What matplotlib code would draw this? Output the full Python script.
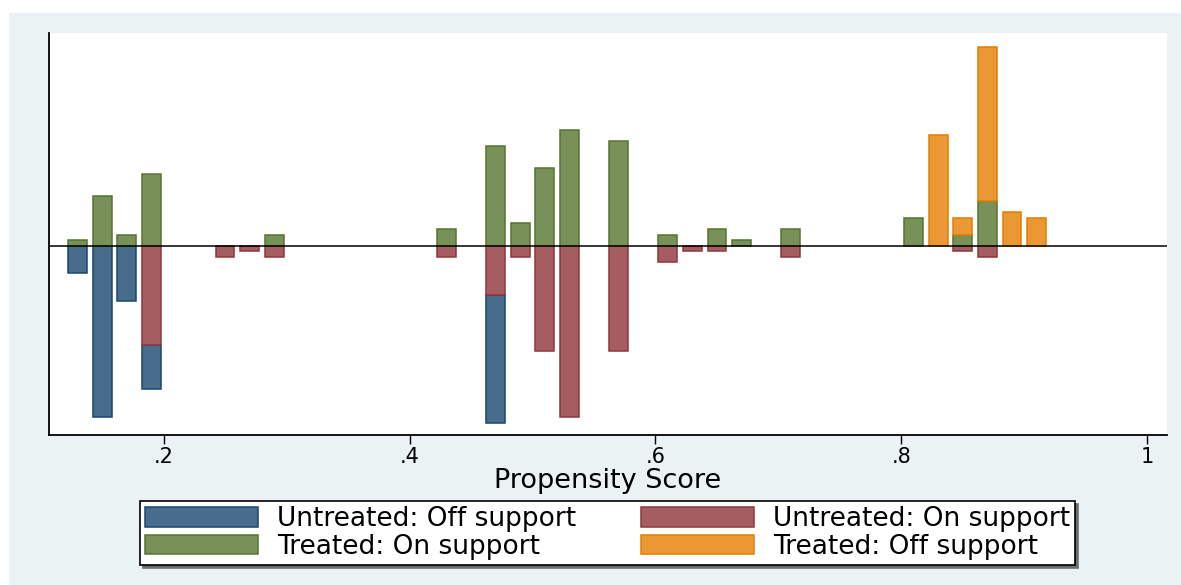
import matplotlib.pyplot as plt
import numpy as np
from matplotlib.patches import Rectangle

# bin midpoints of the propensity score histogram
bins = [0.13, 0.15, 0.17, 0.19, 0.25, 0.27, 0.29, 0.43, 0.47, 0.49, 0.51, 0.53,
        0.57, 0.61, 0.63, 0.65, 0.67, 0.71, 0.81, 0.83, 0.85, 0.87, 0.89, 0.91]
# counts per bin (untreated drawn below zero, treated above)
untreated_off = [5, 31, 10, 8, 0, 0, 0, 0, 23, 0, 0, 0,
                 0, 0, 0, 0, 0, 0, 0, 0, 0, 0, 0, 0]
untreated_on = [0, 0, 0, 18, 2, 1, 2, 2, 9, 2, 19, 31,
                19, 3, 1, 1, 0, 2, 0, 0, 1, 2, 0, 0]
treated_on = [1, 9, 2, 13, 0, 0, 2, 3, 18, 4, 14, 21,
              19, 2, 0, 3, 1, 3, 5, 0, 2, 8, 0, 0]
treated_off = [0, 0, 0, 0, 0, 0, 0, 0, 0, 0, 0, 0,
               0, 0, 0, 0, 0, 0, 0, 20, 3, 28, 6, 5]

xticks = [0.2, 0.4, 0.6, 0.8, 1.0]
xtick_labels = ['.2', '.4', '.6', '.8', '1']

labels = ['Untreated: Off support', 'Untreated: On support',
          'Treated: On support', 'Treated: Off support']
fills = ['#486C8C', '#A65D62', '#779159', '#E99833']
edges = ['#1A476F', '#90353B', '#55752F', '#E37E00']

bg = '#EAF2F3'
plt.rcParams['font.family'] = 'DejaVu Sans'

fig = plt.figure(figsize=(11.81, 5.85), dpi=100)
fig.patch.set_facecolor('white')
fig.patches.append(Rectangle((9 / 1181, 0), 1, 1 - 13 / 585,
                             transform=fig.transFigure, facecolor=bg,
                             edgecolor='none', zorder=-10))

ax = fig.add_axes([48.7 / 1181, 1 - 434.7 / 585,
                   (1167.3 - 48.7) / 1181, (434.7 - 33.3) / 585])
ax.set_facecolor('white')

x = np.array(bins)
uoff = np.array(untreated_off)
uon = np.array(untreated_on)
ton = np.array(treated_on)
toff = np.array(treated_off)
w = 0.0152


def draw(vals, base, i):
    m = vals != 0
    return ax.bar(x[m], vals[m], width=w, bottom=base[m], color=fills[i],
                  edgecolor=edges[i], linewidth=1.1, label=labels[i], zorder=2)


zero = np.zeros(len(x))
h_uoff = draw(-uoff, -uon, 0)
h_uon = draw(-uon, zero, 1)
h_ton = draw(ton, zero, 2)
h_toff = draw(toff, ton, 3)

ax.axhline(0, color='black', linewidth=1.1, zorder=3)

ax.set_xlim(0.1065, 1.0163)
ax.set_ylim(-34.2, 38.4)
ax.set_yticks([])
ax.set_xticks(xticks)
ax.set_xticklabels(xtick_labels, fontsize=15)
ax.tick_params(axis='x', length=6.3, width=1, pad=2.5, colors='black')
for s in ['top', 'right']:
    ax.spines[s].set_visible(False)
for s in ['left', 'bottom']:
    ax.spines[s].set_linewidth(1.3)
    ax.spines[s].set_color('black')

ax.set_xlabel('Propensity Score', fontsize=19.5, labelpad=1.0)

leg = ax.legend([h_uoff, h_ton, h_uon, h_toff],
                [labels[0], labels[2], labels[1], labels[3]],
                ncol=2, loc='upper center',
                bbox_to_anchor=(607.5 / 1181, 1 - 501 / 585),
                bbox_transform=fig.transFigure,
                fontsize=19, handlelength=4.28, handleheight=0.76,
                handletextpad=0.72, columnspacing=2.45, labelspacing=0.06,
                borderpad=0.2, borderaxespad=0, fancybox=False,
                framealpha=1, edgecolor='black',
                shadow={'color': '#6e6e6e', 'alpha': 1})
leg.get_frame().set_linewidth(1.2)

fig.savefig('out.png', dpi=100, facecolor=fig.get_facecolor())
